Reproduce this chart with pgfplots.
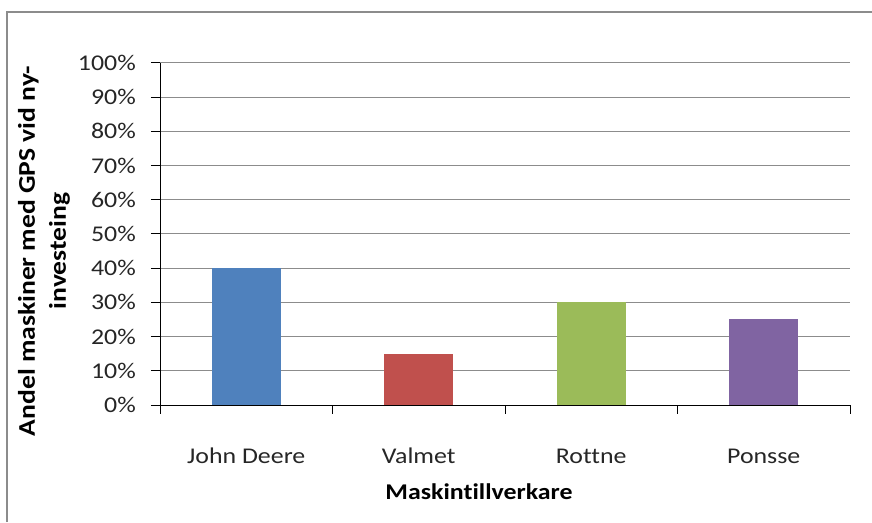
\documentclass[border=0pt]{standalone}
\usepackage{pgfplots}
\pgfplotsset{compat=1.18}
\usepackage{fontspec}
\setmainfont{Carlito}[FakeStretch=1.15, Ligatures=NoCommon]
\definecolor{cblue}{HTML}{4F81BD}
\definecolor{cred}{HTML}{C0504D}
\definecolor{cgreen}{HTML}{9BBB59}
\definecolor{cpurple}{HTML}{8064A2}
\definecolor{gridgray}{HTML}{8C8C8C}
\definecolor{framegray}{HTML}{8C8C8C}
\begin{document}
\begin{tikzpicture}[x=1pt,y=1pt]
\path[use as bounding box] (0,0) rectangle (872,522);
\draw[framegray, line width=2pt] (7,0) -- (7,510) -- (873,510);
\begin{axis}[
  at={(160pt,117pt)}, anchor=south west,
  scale only axis, width=690pt, height=342pt,
  xmin=-0.5, xmax=3.5, ymin=0, ymax=100,
  axis x line*=bottom, axis y line*=left,
  axis line style={black, line width=1pt, -},
  xtick={0,1,2,3},
  xticklabels={John Deere, Valmet, Rottne, Ponsse},
  major x tick style={draw=none},
  minor xtick={-0.5,0.5,1.5,2.5,3.5},
  minor x tick style={black, line width=1pt},
  minor tick length=9pt,
  ytick={0,10,...,100},
  yticklabels={0\%,10\%,20\%,30\%,40\%,50\%,60\%,70\%,80\%,90\%,100\%},
  major y tick style={black, line width=1pt},
  major tick length=9pt,
  tick align=outside,
  ymajorgrids,
  major grid style={gridgray, line width=1pt},
  ticklabel style={font=\fontsize{22.5}{26}\selectfont, text=black!85},
  xticklabel style={anchor=base, inner sep=0pt, yshift=-50pt},
  yticklabel style={anchor=east, inner sep=0pt, xshift=-15pt},
  ybar, bar width=0.4,
  clip=false,
]
\addplot[fill=cblue, draw=none, bar shift=0pt] coordinates {(0,40)};
\addplot[fill=cred, draw=none, bar shift=0pt] coordinates {(1,15)};
\addplot[fill=cgreen, draw=none, bar shift=0pt] coordinates {(2,30)};
\addplot[fill=cpurple, draw=none, bar shift=0pt] coordinates {(3,25)};
\end{axis}
\node[font=\bfseries\fontsize{22.5}{26}\selectfont, anchor=base, inner sep=0pt] at (479,23) {Maskintillverkare};
\node[font=\bfseries\fontsize{24}{31}\selectfont, rotate=90, align=center, inner sep=0pt] at (44,271) {Andel maskiner med GPS vid ny-\\investeing};
\end{tikzpicture}
\end{document}
